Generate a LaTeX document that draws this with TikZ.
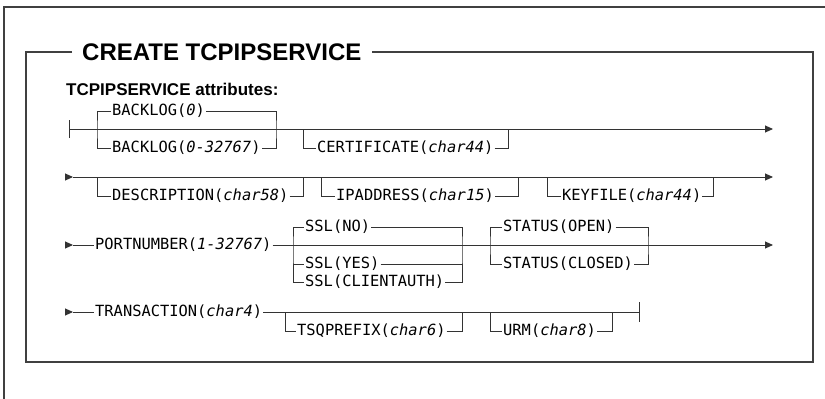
\documentclass[tikz,border=0pt]{standalone}
\usepackage{fontspec}
\setmainfont{Liberation Sans}
\setmonofont{DejaVu Sans Mono}
\usepackage{tikz}
\usetikzlibrary{arrows.meta, positioning}

\begin{document}
\begin{tikzpicture}[x=1pt, y=-1pt]
    \tikzstyle{boxline} = [line width=1.3pt, draw=black!75]
    \tikzstyle{rail} = [line width=0.9pt, draw=black!80]
    \tikzstyle{railarrow} = [rail, -{Triangle[length=8pt, width=7pt]}]
    \tikzstyle{opt} = [inner xsep=1pt, inner ysep=0pt, anchor=west, font=\fontsize{15.4}{18}\selectfont\ttfamily]
    \tikzstyle{titletext} = [inner xsep=10pt, inner ysep=0pt, anchor=west, font=\fontsize{24}{28}\selectfont\bfseries]
    \tikzstyle{head} = [inner sep=0pt, anchor=west, font=\fontsize{17}{20}\selectfont\bfseries]

    \useasboundingbox (0,0) rectangle (825,399);

    % frames
    \draw[boxline] (825,7) -- (4,7) -- (4,399);
    \node (title) [titletext] at (72,52) {CREATE TCPIPSERVICE};
    \draw[boxline] (title.west) -| (26,362) -| (813,52) -- (title.east);
    \node (attr) [head] at (66,89) {TCPIPSERVICE attributes:};

    % row 1
    \coordinate (r1s) at (69,129);
    \coordinate (r1e) at (773,129);
    \draw[rail] ([yshift=-9pt]r1s) -- ([yshift=9pt]r1s);
    \draw[railarrow] (r1s) -- (r1e);
    \node (blzero) [opt] at (111,111) {BACKLOG(\textit{0})};
    \node (blrange) [opt] at (111,148) {BACKLOG(\textit{0-32767})};
    \coordinate (bl-l) at (97,129);
    \coordinate (bl-r) at (276,129);
    \draw[rail] (blzero.west) -| (bl-l) |- (blrange.west);
    \draw[rail] (blzero.east) -| (bl-r) |- (blrange.east);
    \node (cert) [opt] at (316,148) {CERTIFICATE(\textit{char44})};
    \coordinate (cert-l) at (303,129);
    \coordinate (cert-r) at (508,129);
    \draw[rail] (cert-l) |- (cert.west);
    \draw[rail] (cert.east) -| (cert-r);

    % row 2
    \coordinate (r2s) at (73,177);
    \coordinate (r2e) at (773,177);
    \draw[railarrow] ([xshift=-8pt]r2s) -- (r2s);
    \draw[railarrow] (r2s) -- (r2e);
    \node (desc) [opt] at (111,196) {DESCRIPTION(\textit{char58})};
    \coordinate (desc-l) at (97,177);
    \coordinate (desc-r) at (303,177);
    \draw[rail] (desc-l) |- (desc.west);
    \draw[rail] (desc.east) -| (desc-r);
    \node (ipaddr) [opt] at (335,196) {IPADDRESS(\textit{char15})};
    \coordinate (ipaddr-l) at (321,177);
    \coordinate (ipaddr-r) at (518,177);
    \draw[rail] (ipaddr-l) |- (ipaddr.west);
    \draw[rail] (ipaddr.east) -| (ipaddr-r);
    \node (keyfile) [opt] at (561,196) {KEYFILE(\textit{char44})};
    \coordinate (keyfile-l) at (547,177);
    \coordinate (keyfile-r) at (713,177);
    \draw[rail] (keyfile-l) |- (keyfile.west);
    \draw[rail] (keyfile.east) -| (keyfile-r);

    % row 3
    \coordinate (r3s) at (73,245);
    \coordinate (r3e) at (773,245);
    \draw[railarrow] ([xshift=-8pt]r3s) -- (r3s);
    \node (port) [opt] at (94,245) {PORTNUMBER(\textit{1-32767})};
    \draw[rail] (r3s) -- (port.west);
    \draw[railarrow] (port.east) -- (r3e);
    \node (sslno) [opt] at (304,227) {SSL(NO)};
    \node (sslyes) [opt] at (304,264) {SSL(YES)};
    \node (sslca) [opt] at (304,282) {SSL(CLIENTAUTH)};
    \coordinate (ssl-l) at (293,245);
    \coordinate (ssl-r) at (462,245);
    \draw[rail] (sslno.west) -| (ssl-l) |- (sslca.west);
    \draw[rail] (sslyes.west -| ssl-l) -- (sslyes.west);
    \draw[rail] (sslno.east) -| (ssl-r) |- (sslca.east);
    \draw[rail] (sslyes.east) -- (sslyes.east -| ssl-r);
    \node (stopen) [opt] at (502,227) {STATUS(OPEN)};
    \node (stclosed) [opt] at (502,264) {STATUS(CLOSED)};
    \coordinate (status-l) at (490,245);
    \coordinate (status-r) at (648,245);
    \draw[rail] (stopen.west) -| (status-l) |- (stclosed.west);
    \draw[rail] (stopen.east) -| (status-r) |- (stclosed.east);

    % row 4
    \coordinate (r4s) at (73,312);
    \coordinate (r4e) at (639,312);
    \draw[railarrow] ([xshift=-8pt]r4s) -- (r4s);
    \node (trans) [opt] at (94,312) {TRANSACTION(\textit{char4})};
    \draw[rail] (r4s) -- (trans.west);
    \draw[rail] (trans.east) -- (r4e);
    \draw[rail] ([yshift=10pt]r4e) -- ([yshift=-10pt]r4e);
    \node (tsq) [opt] at (296,331) {TSQPREFIX(\textit{char6})};
    \coordinate (tsq-l) at (285,312);
    \coordinate (tsq-r) at (462,312);
    \draw[rail] (tsq-l) |- (tsq.west);
    \draw[rail] (tsq.east) -| (tsq-r);
    \node (urm) [opt] at (502,331) {URM(\textit{char8})};
    \coordinate (urm-l) at (490,312);
    \coordinate (urm-r) at (612,312);
    \draw[rail] (urm-l) |- (urm.west);
    \draw[rail] (urm.east) -| (urm-r);
\end{tikzpicture}
\end{document}
